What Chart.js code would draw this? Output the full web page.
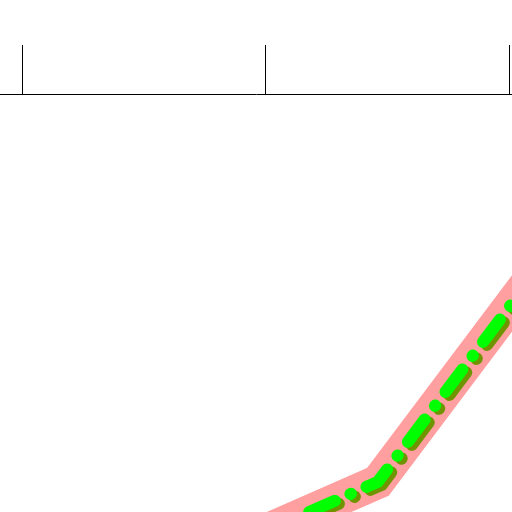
<!DOCTYPE html>
<html>
<head>
<meta charset="utf-8">
<script src="https://cdn.jsdelivr.net/npm/chart.js@4/dist/chart.umd.min.js"></script>
<style>
  html, body { margin: 0; padding: 0; background: #ffffff; }
  #wrap { width: 512px; height: 512px; }
</style>
</head>
<body>
<div id="wrap"><canvas id="lineChart"></canvas></div>
<script>
// values
const xValues = [0, 1.46, 2.5];
const yValues = [-3.0, 0.72, 8.76];
const xTicks = [0, 1, 2];

function makePoints() {
  return xValues.map(function (x, i) { return { x: x, y: yValues[i] }; });
}

// green line gets an olive drop shadow
const shadowPlugin = {
  id: "shadow",
  beforeDatasetDraw: function (chart, args) {
    if (args.index === 1) {
      const ctx = chart.ctx;
      ctx.shadowColor = "#6f9400";
      ctx.shadowOffsetX = 4;
      ctx.shadowOffsetY = 3;
      ctx.shadowBlur = 0;
    }
  },
  afterDatasetDraw: function (chart, args) {
    if (args.index === 1) {
      const ctx = chart.ctx;
      ctx.shadowColor = "rgba(0,0,0,0)";
      ctx.shadowOffsetX = 0;
      ctx.shadowOffsetY = 0;
    }
  }
};

new Chart(document.getElementById("lineChart"), {
  type: "line",
  data: {
    datasets: [{
      data: makePoints(),
      order: 2,
      borderColor: "#ff9f9f",
      borderWidth: 34,
      borderJoinStyle: "miter",
      pointRadius: 0,
      tension: 0
    }, {
      data: makePoints(),
      order: 1,
      borderColor: "#00ff00",
      borderWidth: 12,
      borderCapStyle: "round",
      borderDash: [28, 17, 0.5, 17],
      pointRadius: 0,
      tension: 0
    }]
  },
  options: {
    responsive: true,
    maintainAspectRatio: false,
    animation: false,
    layout: { padding: { top: 45, left: 0, right: 0, bottom: 0 } },
    plugins: {
      legend: { display: false },
      tooltip: { enabled: false }
    },
    scales: {
      x: {
        type: "linear",
        position: "top",
        min: -23 / 243,
        max: 489 / 243,
        afterBuildTicks: function (scale) {
          scale.ticks = xTicks.map(function (v) { return { value: v }; });
        },
        ticks: { display: false },
        grid: {
          drawOnChartArea: false,
          drawTicks: true,
          tickLength: 49,
          tickWidth: 1,
          tickColor: "#000000"
        },
        border: { display: true, color: "#000000", width: 1 }
      },
      y: {
        display: false,
        min: 0,
        max: 10
      }
    }
  },
  plugins: [shadowPlugin]
});
</script>
</body>
</html>
